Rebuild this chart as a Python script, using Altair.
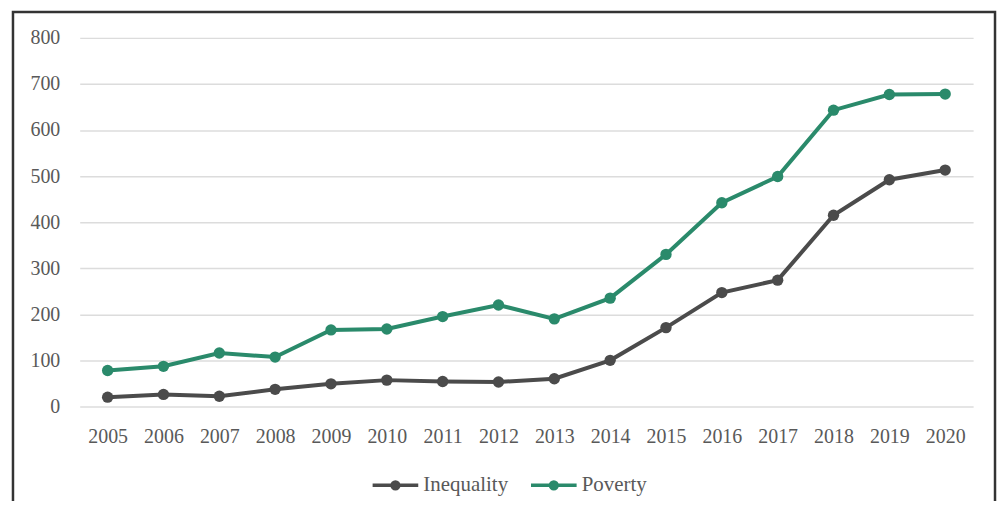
import altair as alt
import pandas as pd

years = [str(y) for y in range(2005, 2021)]
inequality = [20, 26, 22, 37, 49, 57, 54, 53, 60, 100, 171, 247, 274, 415, 492, 513]
poverty = [78, 87, 116, 107, 166, 168, 195, 220, 190, 235, 330, 442, 499, 643, 677, 678]

rows = []
for y, v in zip(years, inequality):
    rows.append({"Year": y, "Value": v, "Series": "Inequality"})
for y, v in zip(years, poverty):
    rows.append({"Year": y, "Value": v, "Series": "Poverty"})
df = pd.DataFrame(rows)

FONT = "Liberation Serif"
TXT = "#595959"

color = alt.Color(
    "Series:N",
    scale=alt.Scale(domain=["Inequality", "Poverty"], range=["#4b4b4b", "#2a8a6b"]),
    legend=alt.Legend(
        title=None,
        orient="none",
        direction="horizontal",
        legendX=292,
        legendY=424,
        symbolType="M-1,0 L1,0 M0.15,0 A0.15,0.15 0 1 1 -0.15,0 A0.15,0.15 0 1 1 0.15,0 Z",
        symbolSize=2100,
        symbolStrokeWidth=3.5,
        labelFont=FONT,
        labelFontSize=21,
        labelColor=TXT,
        columnPadding=15,
        labelOffset=3,
    ),
)

x = alt.X(
    "Year:O",
    sort=years,
    scale=alt.Scale(type="point", padding=0.5),
    axis=alt.Axis(title=None, labelAngle=0, domain=False, ticks=False, grid=False,
                  labelPadding=20, labelFont=FONT, labelFontSize=20, labelColor=TXT),
)
y = alt.Y(
    "Value:Q",
    scale=alt.Scale(domain=[0, 800]),
    axis=alt.Axis(title=None, values=list(range(0, 801, 100)), domain=False, ticks=False,
                  labelPadding=20, labelFont=FONT, labelFontSize=20, labelColor=TXT,
                  gridColor="#dcdcdc", gridWidth=1.5),
)

lines = alt.Chart(df).mark_line(strokeWidth=4).encode(x=x, y=y, color=color)
points = alt.Chart(df).mark_circle(size=130, opacity=1).encode(x=x, y=y, color=color)

frame = alt.Chart(pd.DataFrame({"a": [0]})).mark_rect(
    fill=None, stroke="#333333", strokeWidth=2.5
).encode(x=alt.value(-67), x2=alt.value(919), y=alt.value(-26), y2=alt.value(540))

chart = alt.layer(frame, lines, points).properties(
    width=897, height=370,
    padding={"left": 72, "top": 29, "right": 25, "bottom": 94},
    autosize=alt.AutoSizeParams(type="none"),
    background="white",
).configure_view(stroke=None)

chart.save("out.html", embed_options={"renderer": "svg", "actions": False})
